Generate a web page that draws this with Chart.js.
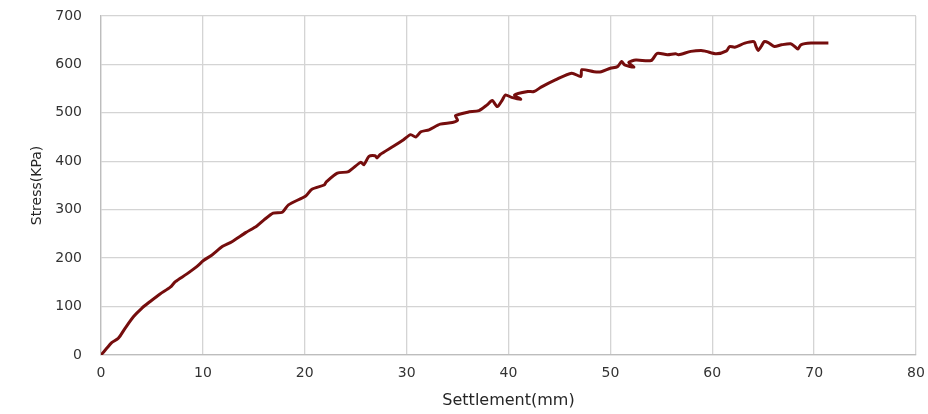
<!DOCTYPE html>
<html>
<head>
<meta charset="utf-8">
<script src="https://cdn.jsdelivr.net/npm/chart.js@4"></script>
<style>
  html, body { margin: 0; padding: 0; background: #fff; }
  #wrap { width: 928px; height: 414px; position: relative; }
</style>
</head>
<body>
<div id="wrap"><canvas id="c" width="928" height="414"></canvas></div>
<script>
const settlement = [0,0.56,1.05,1.7,2.36,3.18,4.0,4.8,5.8,6.8,7.3,8.4,9.4,10.06,10.9,11.9,12.85,14.2,15.3,16.0,16.9,17.8,18.4,20.1,20.7,21.9,22.1,23.2,24.3,25.5,25.8,26.3,26.9,27.1,27.4,28.7,29.7,30.4,30.9,31.4,32.2,33.3,34.5,35.0,34.8,36.0,37.1,37.9,38.4,38.9,39.4,39.7,40.3,41.2,40.6,41.9,42.5,43.2,44.6,46.2,47.1,47.2,48.4,49.1,50.0,50.7,51.1,51.4,52.3,51.8,52.5,54.0,54.6,55.6,56.4,56.7,57.9,58.9,59.4,60.4,61.4,61.7,62.2,63.2,64.1,64.3,64.5,64.8,65.1,65.5,66.1,66.8,67.7,68.1,68.4,68.7,69.7,71.4];
const stress = [0,13.8,25.4,34.5,55,79,96.5,110,126,140,151.5,167,182.5,195,206.6,223.8,234,252.7,266.5,279,292.8,294.8,310,328.5,342.4,351,357,375.4,378.8,398,393,410,411.5,407,414,431,444.6,455,450,461,465,476.6,480,485,494,501.4,504.8,516.5,525.4,513,527,537,532,528,537,544,544,553,568,582,575,589,585,585,592,595.5,606,599,594.5,604,609,608,623,620,622,620,627,629,627,622,628,637,635.6,644,647,637,629,637,647,645,637,640.5,642.6,637,631.6,640.5,644,644];
const xTicks = [0,10,20,30,40,50,60,70,80];
const yTicks = [0,100,200,300,400,500,600,700];
const xTitle = 'Settlement(mm)';
const yTitle = 'Stress(KPa)';

const points = settlement.map((x, i) => ({ x: x, y: stress[i] }));

new Chart(document.getElementById('c'), {
  type: 'line',
  data: {
    datasets: [{
      data: points,
      borderColor: '#750d0d',
      borderWidth: 3,
      pointRadius: 0,
      tension: 0.25,
      fill: false
    }]
  },
  options: {
    responsive: false,
    animation: false,
    devicePixelRatio: 1,
    layout: { padding: { top: 16, right: 12, bottom: 0, left: 0 } },
    plugins: { legend: { display: false }, tooltip: { enabled: false } },
    scales: {
      x: {
        type: 'linear',
        min: xTicks[0],
        max: xTicks[xTicks.length - 1],
        afterBuildTicks: s => { s.ticks = xTicks.map(v => ({ value: v })); },
        afterFit: s => { s.height = 59; },
        grid: { color: '#d4d4d4', lineWidth: 1.3, drawTicks: true, tickLength: 10, tickColor: 'rgba(0,0,0,0)' },
        border: { color: '#bdbdbd', width: 1.3 },
        ticks: { padding: 0, color: '#333', font: { family: 'DejaVu Sans', size: 14 } },
        title: { display: true, text: xTitle, color: '#262626', padding: { top: 0, bottom: 4 }, font: { family: 'DejaVu Sans', size: 16 } }
      },
      y: {
        type: 'linear',
        min: yTicks[0],
        max: yTicks[yTicks.length - 1],
        afterBuildTicks: s => { s.ticks = yTicks.map(v => ({ value: v })); },
        afterFit: s => { s.width = 101; },
        grid: { color: '#d4d4d4', lineWidth: 1.3, drawTicks: true, tickLength: 19, tickColor: 'rgba(0,0,0,0)' },
        border: { color: '#bdbdbd', width: 1.3 },
        ticks: { padding: 0, color: '#333', font: { family: 'DejaVu Sans', size: 14 } },
        title: { display: true, text: yTitle, color: '#262626', padding: { top: 29, bottom: 0 }, font: { family: 'DejaVu Sans', size: 14 } }
      }
    }
  }
});
</script>
</body>
</html>
